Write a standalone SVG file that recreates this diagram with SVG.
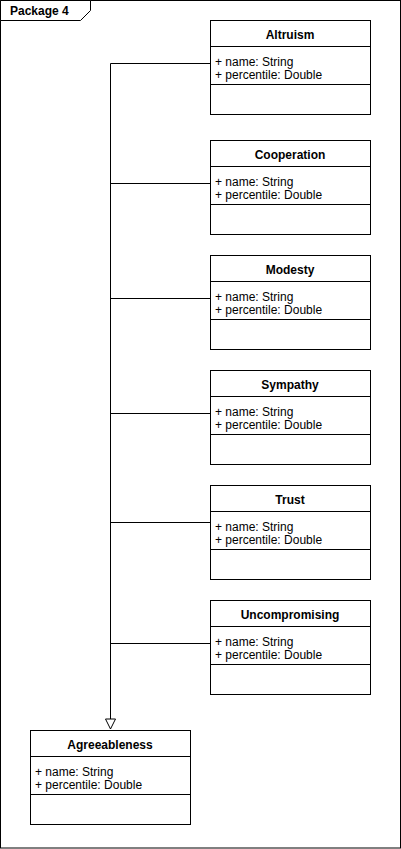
<svg xmlns="http://www.w3.org/2000/svg" width="401" height="849" viewBox="0 0 401 849">
<style>
.box{fill:#fff;stroke:#000;stroke-width:1}
.ln{stroke:#000;stroke-width:1;fill:none}
.t{font-family:"Liberation Sans",Arial,sans-serif;font-size:12px;font-weight:bold;text-anchor:middle;fill:#000}
.a{font-family:"Liberation Sans",Arial,sans-serif;font-size:12px;fill:#000}
.p{font-family:"Liberation Sans",Arial,sans-serif;font-size:12px;font-weight:bold;fill:#000}
</style>
<defs>
<marker id="gen" viewBox="0 0 12 12" refX="11" refY="6" markerWidth="12" markerHeight="12" markerUnits="userSpaceOnUse" orient="auto">
<path d="M1,1 L11,6 L1,11 Z" fill="#fff" stroke="#000" stroke-width="1"/>
</marker>
</defs>
<g id="package">
<rect x="0.5" y="0.5" width="400" height="847.5" class="box"/>
<path d="M0.5,0.5 H90.5 V10.5 L80.5,20.5 H0.5 Z" class="box"/>
<text x="10" y="15" class="p">Package 4</text>
</g>
<g id="connectors">
<path d="M210.5,63.5 H110.5 V729" class="ln" marker-end="url(#gen)"/>
<path d="M210.5,183.5 H110.5" class="ln"/>
<path d="M210.5,298.5 H110.5" class="ln"/>
<path d="M210.5,413.5 H110.5" class="ln"/>
<path d="M210.5,522.5 H110.5" class="ln"/>
<path d="M210.5,643.5 H110.5" class="ln"/>
</g>
<g id="altruism" transform="translate(210,20)">
<rect x="0.5" y="0.5" width="160" height="94" class="box"/>
<path d="M0.5,26.5 H160.5 M0.5,64.5 H160.5" class="ln"/>
<text x="80" y="19" class="t">Altruism</text>
<text x="5" y="46" class="a">+ name: String</text>
<text x="5" y="59" class="a">+ percentile: Double</text>
</g>
<g id="cooperation" transform="translate(210,140)">
<rect x="0.5" y="0.5" width="160" height="94" class="box"/>
<path d="M0.5,26.5 H160.5 M0.5,64.5 H160.5" class="ln"/>
<text x="80" y="19" class="t">Cooperation</text>
<text x="5" y="46" class="a">+ name: String</text>
<text x="5" y="59" class="a">+ percentile: Double</text>
</g>
<g id="modesty" transform="translate(210,255)">
<rect x="0.5" y="0.5" width="160" height="94" class="box"/>
<path d="M0.5,26.5 H160.5 M0.5,64.5 H160.5" class="ln"/>
<text x="80" y="19" class="t">Modesty</text>
<text x="5" y="46" class="a">+ name: String</text>
<text x="5" y="59" class="a">+ percentile: Double</text>
</g>
<g id="sympathy" transform="translate(210,370)">
<rect x="0.5" y="0.5" width="160" height="94" class="box"/>
<path d="M0.5,26.5 H160.5 M0.5,64.5 H160.5" class="ln"/>
<text x="80" y="19" class="t">Sympathy</text>
<text x="5" y="46" class="a">+ name: String</text>
<text x="5" y="59" class="a">+ percentile: Double</text>
</g>
<g id="trust" transform="translate(210,485)">
<rect x="0.5" y="0.5" width="160" height="94" class="box"/>
<path d="M0.5,26.5 H160.5 M0.5,64.5 H160.5" class="ln"/>
<text x="80" y="19" class="t">Trust</text>
<text x="5" y="46" class="a">+ name: String</text>
<text x="5" y="59" class="a">+ percentile: Double</text>
</g>
<g id="uncompromising" transform="translate(210,600)">
<rect x="0.5" y="0.5" width="160" height="94" class="box"/>
<path d="M0.5,26.5 H160.5 M0.5,64.5 H160.5" class="ln"/>
<text x="80" y="19" class="t">Uncompromising</text>
<text x="5" y="46" class="a">+ name: String</text>
<text x="5" y="59" class="a">+ percentile: Double</text>
</g>
<g id="agreeableness" transform="translate(30,730)">
<rect x="0.5" y="0.5" width="160" height="94" class="box"/>
<path d="M0.5,26.5 H160.5 M0.5,64.5 H160.5" class="ln"/>
<text x="80" y="19" class="t">Agreeableness</text>
<text x="5" y="46" class="a">+ name: String</text>
<text x="5" y="59" class="a">+ percentile: Double</text>
</g>
</svg>
